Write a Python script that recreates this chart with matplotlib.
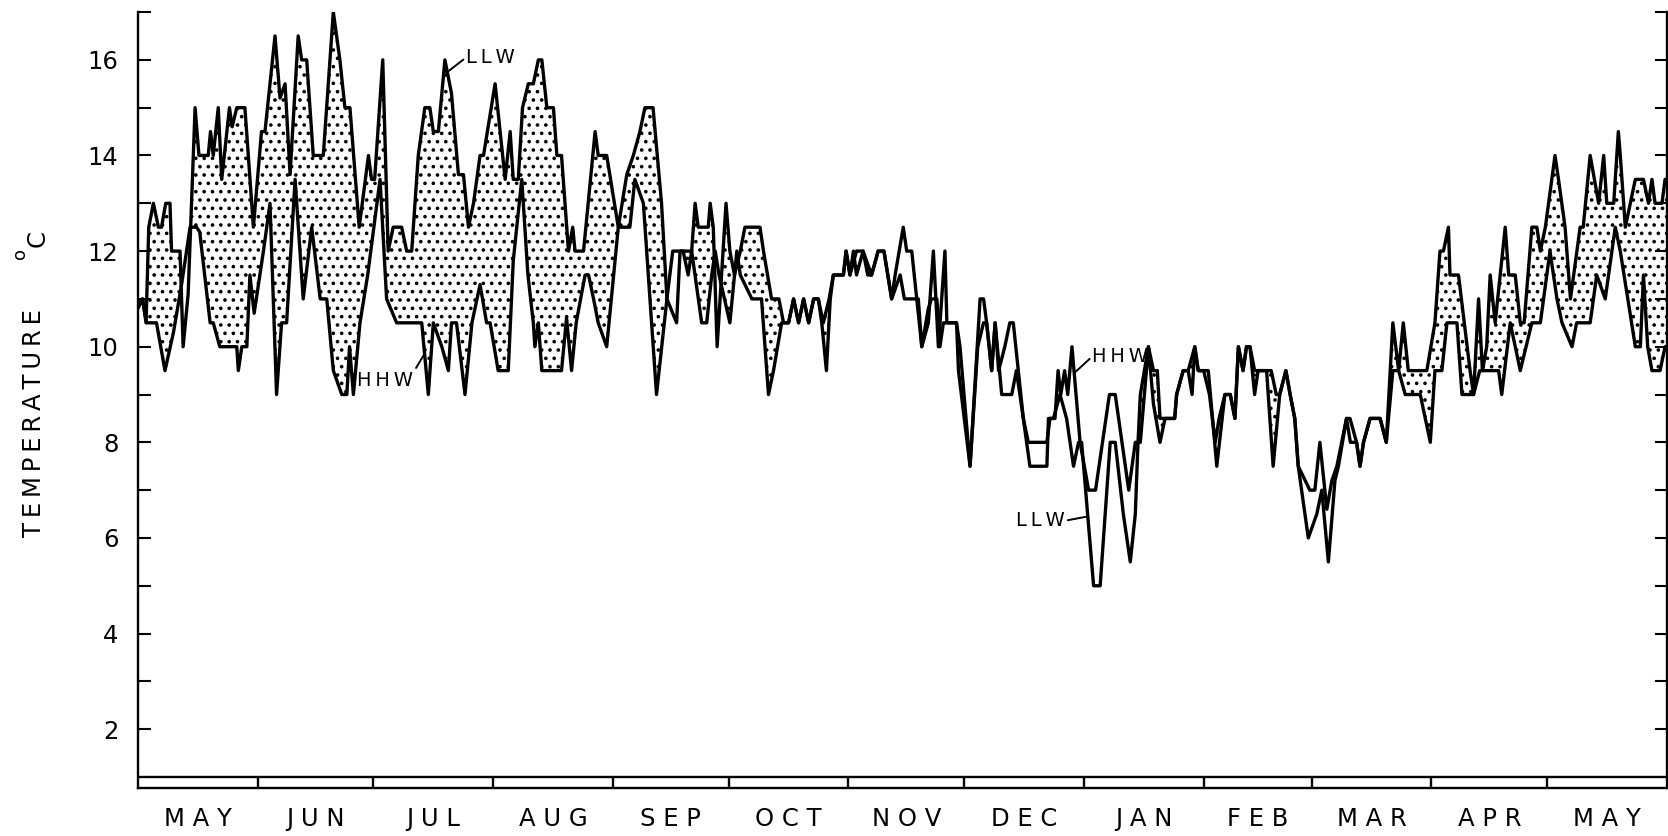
import numpy as np
import matplotlib
matplotlib.use("Agg")
import matplotlib.pyplot as plt

# months from May to May, day 0 = 1 May
months = ["MAY", "JUN", "JUL", "AUG", "SEP", "OCT", "NOV", "DEC",
          "JAN", "FEB", "MAR", "APR", "MAY"]
month_edges = [0, 31, 61, 92, 123, 153, 184, 214, 245, 276, 304, 335, 365, 396]

# lower low water temperature (deg C)
llw_day = [0, 1.2, 2.1, 2.8, 4.0, 5.3, 6.1, 7.2, 8.3, 8.7, 10.9, 11.7, 13.0, 14.8, 15.8,
           18.2, 18.8, 19.5, 20.8, 21.7, 23.7, 24.4, 25.6, 27.7, 29.9, 32.0, 32.9, 35.5,
           36.8, 38.1, 39.4, 41.5, 42.4, 43.7, 45.4, 48.0, 50.6, 52.3, 53.6, 54.9, 57.3,
           59.7, 60.5, 61.3, 63.4, 64.8, 66.1, 68.3, 69.6, 70.9, 72.6, 74.3, 75.6, 76.5,
           77.8, 79.5, 81.2, 83.0, 84.3, 85.6, 86.9, 88.6, 89.5, 92.5, 93.8, 95.1, 96.4,
           97.2, 98.5, 99.6, 101.1, 102.4, 103.7, 104.6, 105.9, 107.6, 108.5, 109.7,
           111.5, 112.6, 113.2, 115.4, 116.6, 118.4, 119.2, 121.4, 124.4, 126.6, 128.3,
           130.0, 131.3, 133.4, 135.6, 137.0, 139.5, 140.4, 141.3, 143.4, 144.3, 145.1,
           147.7, 148.2, 149.0, 150.0, 152.3, 153.3, 154.5, 156.0, 157.2, 161.1, 162.0,
           164.1, 166.0, 167.2, 168.5, 169.8, 171.1, 172.4, 173.7, 175.0, 176.2, 177.5,
           179.0, 180.1, 182.7, 183.4, 184.4, 186.1, 187.8, 190.0, 191.7, 193.2, 195.2,
           197.4, 198.5, 202.1, 203.0, 204.7, 205.5, 206.9, 207.7, 208.6, 212.0, 212.5,
           215.5, 217.5, 219.0, 219.8, 221.1, 222.0, 223.7, 226.3, 227.5, 229.3, 231.0,
           235.4, 235.8, 237.1, 238.8, 240.5, 242.3, 243.6, 244.4, 247.5, 249.2, 251.8,
           253.1, 255.2, 257.0, 258.3, 259.0, 259.6, 261.7, 263.0, 264.0, 264.7, 266.0,
           268.5, 269.0, 270.7, 272.0, 273.7, 274.6, 276.0, 277.5, 279.0, 280.0, 281.5,
           282.9, 284.1, 285.0, 286.2, 287.1, 288.0, 289.2, 290.1, 292.3, 293.5, 294.8,
           295.7, 297.3, 298.4, 299.6, 300.5, 303.1, 305.3, 306.6, 308.3, 310.0, 310.9,
           313.0, 314.0, 315.6, 316.5, 317.4, 319.1, 320.8, 321.7, 323.3, 325.0, 326.5,
           327.7, 329.0, 332.5, 333.8, 335.9, 337.2, 338.1, 339.4, 339.8, 342.0, 343.5,
           345.0, 345.9, 347.2, 348.2, 349.3, 350.2, 351.5, 354.1, 355.0, 356.7, 358.0,
           359.0, 361.0, 362.3, 363.2, 364.5, 367.0, 367.9, 369.6, 371.0, 373.5, 374.3,
           376.1, 378.3, 379.6, 380.4, 382.2, 383.4, 383.9, 385.2, 387.8, 389.9, 391.2,
           392.1, 392.9, 394.7, 395.5, 396.0]
llw_temp = [10.8, 11.0, 10.5, 12.5, 13.0, 12.5, 12.5, 13.0, 13.0, 12.0, 12.0, 10.0, 11.1, 15.0, 14.0,
            14.0, 14.5, 14.0, 15.0, 13.5, 15.0, 14.6, 15.0, 15.0, 12.5, 14.5, 14.5, 16.5,
            15.2, 15.5, 13.6, 16.5, 16.0, 16.0, 14.0, 14.0, 17.0, 16.0, 15.0, 15.0, 12.5,
            14.0, 13.5, 13.5, 16.0, 12.0, 12.5, 12.5, 12.0, 12.0, 14.0, 15.0, 15.0, 14.5,
            14.5, 16.0, 15.3, 13.6, 13.6, 12.5, 13.0, 14.0, 14.0, 15.5, 14.5, 13.5, 14.5,
            13.5, 13.5, 15.0, 15.5, 15.5, 16.0, 16.0, 15.0, 15.0, 14.0, 14.0,
            12.0, 12.5, 12.0, 12.0, 13.0, 14.5, 14.0, 14.0, 12.5, 13.6, 14.0,
            14.5, 15.0, 15.0, 13.0, 11.0, 10.5, 12.0, 12.0, 12.0, 13.0, 12.5,
            12.5, 13.0, 12.5, 10.0, 13.0, 12.0, 11.5, 12.0, 12.5, 12.5, 12.0,
            11.0, 11.0, 10.5, 10.5, 11.0, 10.5, 11.0, 10.5, 11.0, 11.0, 10.5,
            11.0, 11.5, 11.5, 12.0, 11.5, 12.0, 12.0, 11.5, 12.0, 12.0, 11.0,
            11.5, 11.0, 11.0, 10.0, 10.8, 11.0, 11.0, 10.0, 10.5, 10.5, 9.5,
            7.5, 10.0, 10.5, 10.5, 9.5, 10.5, 9.0, 9.0, 9.5, 8.5, 7.5,
            7.5, 8.5, 8.5, 9.0, 8.5, 7.5, 8.0, 8.0, 5.0, 5.0, 8.0,
            8.0, 6.5, 5.5, 6.5, 8.0, 9.0, 10.0, 9.5, 9.5, 8.5, 8.5,
            8.5, 9.0, 9.5, 9.5, 10.0, 9.5, 9.5, 9.0, 8.0, 8.5, 9.0,
            9.0, 8.5, 10.0, 9.5, 10.0, 10.0, 9.5, 9.5, 9.5, 9.5, 9.0,
            9.0, 9.5, 9.0, 8.5, 7.5, 6.0, 6.5, 7.0, 5.5, 7.2, 7.5,
            8.5, 8.0, 8.0, 7.5, 8.0, 8.5, 8.5, 8.5, 8.0, 10.5, 9.5,
            10.5, 9.5, 9.5, 9.5, 10.5, 12.0, 12.0, 12.5, 11.5, 11.5, 10.5,
            9.5, 9.0, 11.0, 9.5, 10.0, 11.5, 10.5, 12.5, 11.5, 11.5, 10.5,
            10.5, 12.5, 12.5, 12.0, 12.5, 14.0, 13.5, 12.5, 11.0, 12.5, 12.5,
            14.0, 13.0, 14.0, 13.0, 13.0, 14.5, 14.0, 12.5, 13.5, 13.5, 13.0,
            13.5, 13.0, 13.0, 13.5, 13.5]

# higher high water temperature (deg C)
hhw_day = [0, 1.2, 2.2, 4.8, 7.0, 9.2, 11.3, 13.5, 15.2, 16.0, 18.7, 19.5, 21.2, 25.6,
           26.0, 26.9, 28.2, 29.0, 30.1, 32.5, 34.2, 35.9, 37.2, 38.5, 40.7, 42.8, 45.0,
           47.2, 48.9, 50.6, 52.8, 54.1, 54.8, 55.8, 57.5, 59.5, 62.7, 64.4, 67.0, 73.5,
           75.2, 76.5, 78.7, 80.4, 81.2, 82.5, 84.7, 86.5, 88.6, 90.3, 91.2, 93.3, 95.9,
           97.2, 99.4, 101.0, 102.4, 102.8, 103.7, 104.6, 109.7, 111.0, 112.3, 113.5,
           115.8, 116.7, 118.0, 119.2, 121.4, 124.4, 127.4, 128.7, 130.9, 134.3, 137.0,
           138.5, 141.2, 142.5, 143.4, 146.0, 147.3, 148.6, 149.5, 150.5, 153.3, 155.1,
           156.0, 159.0, 161.5, 163.3, 164.6, 166.7, 168.5, 169.8, 171.1, 172.4, 173.7,
           175.0, 176.2, 177.1, 178.3, 179.3, 180.1, 182.7, 183.4, 184.4, 185.3, 186.1,
           187.8, 189.0, 190.0, 191.7, 193.2, 195.2, 196.1, 198.2, 199.1, 200.4, 201.7,
           203.0, 204.7, 206.0, 207.3, 209.0, 209.5, 212.0, 212.9, 215.5, 218.1, 219.0,
           219.8, 221.1, 222.0, 222.9, 224.5, 225.8, 226.7, 228.0, 229.3, 230.6, 235.4,
           236.2, 237.5, 238.3, 239.0, 240.0, 240.8, 241.9, 244.0, 246.2, 248.0, 251.6,
           253.1, 256.6, 258.3, 259.6, 261.7, 263.0, 264.7, 266.0, 268.5, 269.0, 270.7,
           272.0, 273.0, 273.7, 274.6, 277.2, 279.4, 281.5, 282.9, 284.1, 285.0, 286.2,
           287.1, 288.0, 289.2, 290.1, 292.3, 294.0, 295.7, 297.3, 298.4, 299.6, 300.5,
           303.5, 304.8, 306.1, 307.9, 309.2, 310.5, 313.0, 313.9, 315.6, 316.5, 317.4,
           319.1, 320.8, 321.7, 323.3, 325.0, 326.5, 328.2, 332.1, 334.7, 335.9, 337.7,
           339.0, 341.6, 342.9, 345.9, 347.5, 349.3, 352.4, 353.2, 355.4, 358.0, 361.0,
           363.2, 365.7, 367.5, 368.8, 371.4, 372.6, 376.1, 377.8, 380.0, 382.6, 383.9,
           387.8, 389.1, 389.9, 391.0, 392.1, 394.2, 395.5, 396.0]
hhw_temp = [10.9, 11.0, 10.5, 10.5, 9.5, 10.3, 11.3, 12.5, 12.5, 12.4, 10.5, 10.5, 10.0, 10.0,
            9.5, 10.0, 10.0, 11.5, 10.7, 12.0, 13.0, 9.0, 10.5, 10.5, 13.5, 11.0, 12.5,
            11.0, 11.0, 9.5, 9.0, 9.0, 10.0, 9.0, 10.5, 11.5, 13.5, 11.0, 10.5, 10.5,
            9.0, 10.5, 10.0, 9.5, 10.5, 10.5, 9.0, 10.5, 11.3, 10.5, 10.5, 9.5, 9.5,
            11.8, 13.5, 11.5, 10.5, 10.0, 10.5, 9.5, 9.5, 10.6, 9.5, 10.5,
            11.5, 11.5, 11.0, 10.5, 10.0, 12.5, 12.5, 13.5, 13.0, 9.0, 11.0,
            12.0, 12.0, 11.5, 12.0, 10.5, 10.5, 11.5, 12.0, 11.5, 10.5, 12.0,
            11.5, 11.0, 11.0, 9.0, 9.5, 10.5, 10.5, 11.0, 10.5, 11.0, 10.5,
            11.0, 11.0, 10.5, 9.5, 11.0, 11.5, 11.5, 12.0, 11.5, 12.0, 11.5,
            12.0, 11.5, 11.5, 12.0, 12.0, 11.0, 11.5, 12.5, 12.0, 12.0, 11.0,
            10.0, 10.5, 12.0, 10.0, 12.0, 10.5, 10.5, 10.0, 7.5, 11.0, 11.0,
            10.5, 9.5, 10.5, 9.5, 10.0, 10.5, 10.5, 9.5, 8.5, 8.0, 8.0,
            8.5, 8.5, 9.5, 9.0, 9.5, 9.0, 10.0, 8.0, 7.0, 7.0, 9.0,
            9.0, 7.0, 8.0, 8.0, 10.0, 8.8, 8.0, 8.5, 8.5, 9.0, 9.5,
            9.5, 9.0, 10.0, 9.5, 9.5, 7.5, 9.0, 9.0, 8.5, 10.0, 9.5,
            10.0, 10.0, 9.0, 9.5, 9.5, 7.5, 9.0, 9.5, 9.0, 8.5, 7.5,
            7.0, 7.0, 8.0, 6.6, 7.2, 7.5, 8.5, 8.5, 8.0, 7.5, 8.0,
            8.5, 8.5, 8.5, 8.0, 9.5, 9.5, 9.0, 9.0, 8.0, 9.5, 9.5,
            10.5, 10.5, 9.0, 9.0, 9.5, 9.5, 9.5, 9.0, 10.5, 9.5, 10.5,
            10.5, 12.0, 11.0, 10.5, 10.0, 10.5, 10.5, 11.5, 11.0, 12.5, 12.0,
            10.0, 10.0, 11.5, 10.0, 9.5, 9.5, 10.0, 10.0]

plt.rcParams["hatch.linewidth"] = 1.4
plt.rcParams["font.family"] = "DejaVu Sans"

fig = plt.figure(figsize=(16.68, 8.36), dpi=100)
ax = fig.add_axes([0.0827, 0.0574, 0.9167, 0.9282])

# stipple where LLW is warmer than HHW
x_all = np.union1d(llw_day, hhw_day)
llw_i = np.interp(x_all, llw_day, llw_temp)
hhw_i = np.interp(x_all, hhw_day, hhw_temp)
ax.fill_between(x_all, hhw_i, llw_i, where=llw_i > hhw_i, interpolate=True,
                facecolor="white", edgecolor="black", hatch="..", linewidth=0)

ax.plot(llw_day, llw_temp, color="black", lw=2.4)
ax.plot(hhw_day, hhw_temp, color="black", lw=2.4)

ax.set_xlim(0, 396)
ax.set_ylim(0.77, 17.0)

for s in ["left", "right", "bottom"]:
    ax.spines[s].set_linewidth(1.7)
ax.spines["top"].set_visible(False)

# month strip along the bottom
ax.axhline(1.0, color="black", lw=1.7)
ax.vlines(month_edges[1:-1], 0.77, 1.0, color="black", lw=1.7)

yt = list(range(2, 18))
ax.set_yticks(yt)
ax.set_yticklabels([str(v) if v % 2 == 0 and v <= 16 else "" for v in yt])
ax.tick_params(axis="y", direction="in", length=9, width=1.5, right=True,
               labelsize=17.5, pad=14)

centers = [(a + b) / 2 for a, b in zip(month_edges[:-1], month_edges[1:])]
ax.set_xticks(centers)
ax.set_xticklabels([" ".join(m) for m in months])
ax.tick_params(axis="x", length=0, labelsize=17.5, pad=14)

# series labels with leader lines
lab = dict(fontsize=14, color="black")
lead = dict(arrowstyle="-", lw=1.4, color="black", shrinkA=0, shrinkB=0)
ax.annotate("L\u2009L\u2009W", xy=(80.2, 15.75), xytext=(85.0, 16.05),
            ha="left", va="center", arrowprops=dict(lead, relpos=(0, 0.5)), **lab)
ax.annotate("H\u2009H\u2009W", xy=(74.2, 9.85), xytext=(71.3, 9.3),
            ha="right", va="center", arrowprops=dict(lead, relpos=(1, 0.9)), **lab)
ax.annotate("H\u2009H\u2009W", xy=(242.5, 9.45), xytext=(247.2, 9.8),
            ha="left", va="center", arrowprops=dict(lead, relpos=(0, 0.5)), **lab)
ax.annotate("L\u2009L\u2009W", xy=(246.0, 6.45), xytext=(240.1, 6.36),
            ha="right", va="center", arrowprops=dict(lead, relpos=(1, 0.5)), **lab)

# axis title
fig.text(0.0205, 0.494, "\u2009".join("TEMPERATURE"), rotation=90,
         ha="center", va="center", fontsize=17.5)
fig.text(0.0225, 0.715, "C", rotation=90, ha="center", va="center", fontsize=17.5)
fig.text(0.012, 0.697, "o", rotation=90, ha="center", va="center", fontsize=13)

fig.savefig("out.png", dpi=100)
